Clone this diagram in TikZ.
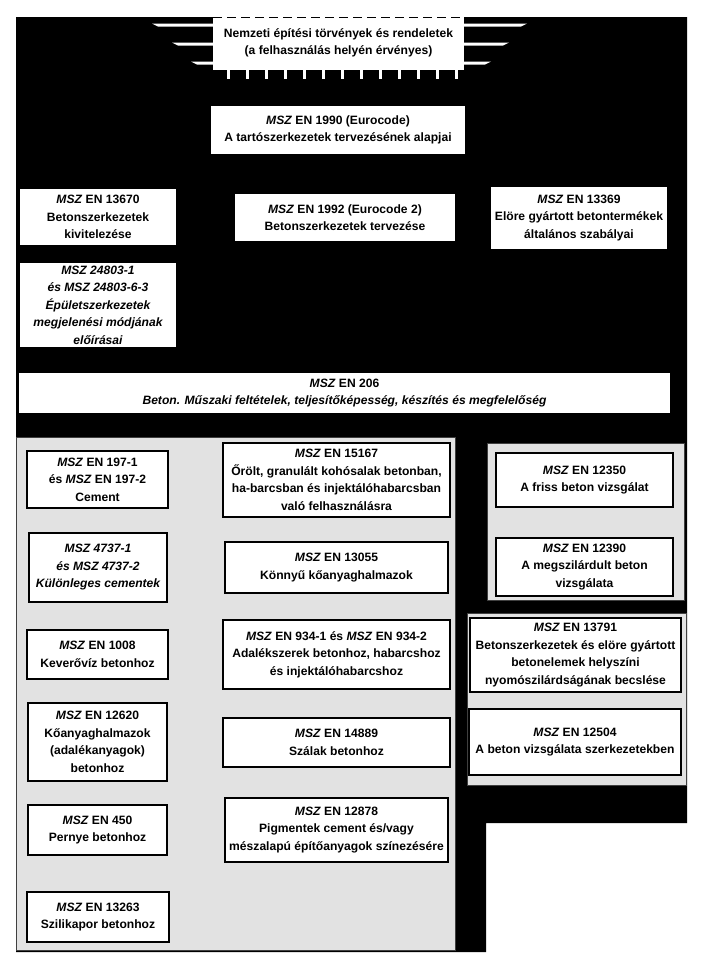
\documentclass[tikz,border=0pt]{standalone}
\usepackage{fontspec}
\setmainfont{Liberation Sans}
\newcommand\M{\textit{MSZ}}
\definecolor{panelgray}{HTML}{E2E2E2}
\definecolor{paneledge}{HTML}{404040}
\tikzset{
  txt/.style={font=\fontsize{12.1}{17.5}\selectfont\bfseries, align=center, inner sep=0pt},
  topbox/.style={txt, fill=white, draw=none},
  inbox/.style={txt, fill=white, draw=black, line width=1.3pt},
  panel/.style={fill=panelgray, draw=paneledge, line width=1pt, inner sep=0pt},
  stripe/.style={fill=white, draw=none},
}
\begin{document}
\begin{tikzpicture}[x=1pt,y=-1pt]
\useasboundingbox (0,0) rectangle (702,967);
\fill[white] (0,0) rectangle (702,967);
% black background
\fill[black] (16,17) -- (687,17) -- (687,823) -- (486,823) -- (486,952) -- (16,952) -- cycle;
% title notch
\fill[white] (213,17) rectangle (464,70);
\draw[black, line width=1.5pt, dash pattern=on 9pt off 5pt] (213,17.5) -- (464,17.5);
\foreach \y/\xl/\xr in {25/152/527, 44/172/509, 63/191/491}{
  \fill[stripe] (213,\y-1.5) -- (\xl,\y-1.5) -- (\xl+6,\y+1.5) -- (213,\y+1.5) -- cycle;
  \fill[stripe] (464,\y-1.5) -- (\xr,\y-1.5) -- (\xr-6,\y+1.5) -- (464,\y+1.5) -- cycle;
}
\foreach \k in {0,...,12}{
  \fill[white] (226.5+19*\k,69) rectangle (229.5+19*\k,79);
}
\node[txt] (title) at (338.5,43) {\fontsize{12.1}{19}\selectfont Nemzeti építési törvények és rendeletek\\(a felhasználás helyén érvényes)};

% top boxes
\node[topbox, minimum width=254pt, minimum height=48pt] (n1990) at (338,130) {\M{} EN 1990 (Eurocode)\\A tartószerkezetek tervezésének alapjai};
\node[topbox, minimum width=156pt, minimum height=56pt] (n13670) at (98,217) {\M{} EN 13670\\Betonszerkezetek\\kivitelezése};
\node[topbox, minimum width=220pt, minimum height=47pt] (n1992) at (345,217.5) {\M{} EN 1992 (Eurocode 2)\\Betonszerkezetek tervezése};
\node[topbox, minimum width=176pt, minimum height=62pt] (n13369) at (579,218) {\M{} EN 13369\\Elöre gyártott betontermékek\\általános szabályai};
\node[topbox, minimum width=156pt, minimum height=84pt] (n24803) at (98,305) {\itshape MSZ 24803-1\\\itshape és MSZ 24803-6-3\\\itshape Épületszerkezetek\\\itshape megjelenési módjának\\\itshape előírásai};
\node[topbox, minimum width=651pt, minimum height=40pt] (n206) at (344.5,393) {\M{} EN 206\\\textit{Beton. Műszaki feltételek, teljesítőképesség, készítés és megfelelőség}};

% panels
\node[panel, minimum width=439pt, minimum height=513pt] (pleft) at (235.5,693.5) {};
\node[panel, minimum width=197pt, minimum height=157pt] (pr1) at (585.5,521.5) {};
\node[panel, minimum width=219pt, minimum height=172pt] (pr2) at (576.5,699) {};

% left panel boxes
\node[inbox, minimum width=141pt, minimum height=57pt] (b197) at (97.5,479.5) {\M{} EN 197-1\\és \M{} EN 197-2\\Cement};
\node[inbox, minimum width=227pt, minimum height=74pt] (b15167) at (336.5,480) {\M{} EN 15167\\Őrölt, granulált kohósalak betonban,\\ha-barcsban és injektálóhabarcsban\\való felhasználásra};
\node[inbox, minimum width=138pt, minimum height=69pt] (b4737) at (98,567.5) {\itshape MSZ 4737-1\\\itshape és MSZ 4737-2\\\itshape Különleges cementek};
\node[inbox, minimum width=223pt, minimum height=51pt] (b13055) at (336.5,567.5) {\M{} EN 13055\\Könnyű kőanyaghalmazok};
\node[inbox, minimum width=141pt, minimum height=49pt] (b1008) at (97.5,654.5) {\M{} EN 1008\\Keverővíz betonhoz};
\node[inbox, minimum width=227pt, minimum height=69pt] (b934) at (336.5,654.5) {\M{} EN 934-1 és \M{} EN 934-2\\Adalékszerek betonhoz, habarcshoz\\és injektálóhabarcshoz};
\node[inbox, minimum width=139pt, minimum height=78pt] (b12620) at (97.5,742) {\M{} EN 12620\\Kőanyaghalmazok\\(adalékanyagok)\\betonhoz};
\node[inbox, minimum width=227pt, minimum height=49pt] (b14889) at (336.5,742.5) {\M{} EN 14889\\Szálak betonhoz};
\node[inbox, minimum width=139pt, minimum height=50pt] (b450) at (97.5,830) {\M{} EN 450\\Pernye betonhoz};
\node[inbox, minimum width=223pt, minimum height=64pt] (b12878) at (336.5,830) {\M{} EN 12878\\Pigmentek cement és/vagy\\mészalapú építőanyagok színezésére};
\node[inbox, minimum width=142pt, minimum height=50pt] (b13263) at (98,917) {\M{} EN 13263\\Szilikapor betonhoz};

% right panel boxes
\node[inbox, minimum width=177pt, minimum height=54pt] (b12350) at (584.5,480) {\M{} EN 12350\\A friss beton vizsgálat};
\node[inbox, minimum width=177pt, minimum height=58pt] (b12390) at (584.5,567) {\M{} EN 12390\\A megszilárdult beton\\vizsgálata};
\node[inbox, minimum width=211pt, minimum height=74pt] (b13791) at (575.5,655) {\M{} EN 13791\\Betonszerkezetek és elöre gyártott\\betonelemek helyszíni\\nyomószilárdságának becslése};
\node[inbox, minimum width=212pt, minimum height=66pt] (b12504) at (575,742) {\M{} EN 12504\\A beton vizsgálata szerkezetekben};
\end{tikzpicture}
\end{document}
